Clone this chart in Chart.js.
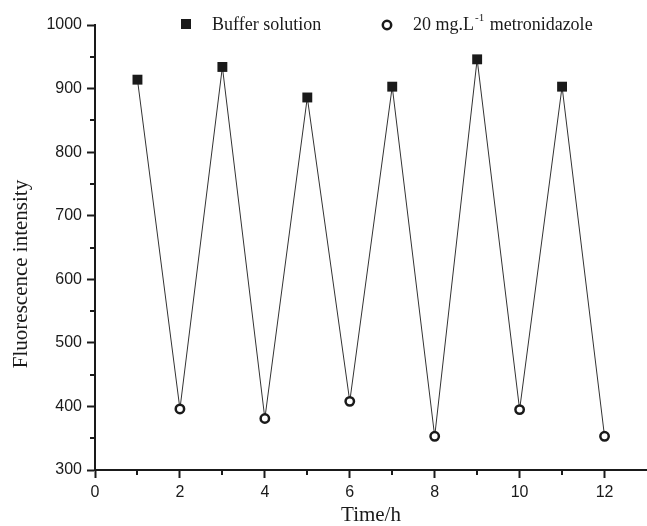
<!DOCTYPE html>
<html>
<head>
<meta charset="utf-8">
<script src="https://cdn.jsdelivr.net/npm/chart.js@4.4.1/dist/chart.umd.min.js"></script>
<style>
  body { margin: 0; background: #fff; }
  canvas { display: block; }
</style>
</head>
<body>
<canvas id="chartFluo" width="647" height="526"></canvas>
<script>
// time points (h) and intensities for the two alternating media
const bufferTime = [1, 3, 5, 7, 9, 11];
const bufferIntensity = [914, 934, 886, 903, 946, 903];
const metroTime = [2, 4, 6, 8, 10, 12];
const metroIntensity = [396, 381, 408, 353, 395, 353];

const xTicks = [0, 2, 4, 6, 8, 10, 12];
const yTicks = [300, 400, 500, 600, 700, 800, 900, 1000];
const xMinor = [1, 3, 5, 7, 9, 11];
const yMinor = [350, 450, 550, 650, 750, 850, 950];

const ink = '#1a1a1a';
const serif = "'Liberation Serif', 'Times New Roman', serif";
const sans = "'Liberation Sans', Arial, sans-serif";

const buffer = bufferTime.map((t, i) => ({ x: t, y: bufferIntensity[i] }));
const metro = metroTime.map((t, i) => ({ x: t, y: metroIntensity[i] }));
// the connecting line runs through every measurement in time order
const sequence = buffer.concat(metro).sort((a, b) => a.x - b.x);

// minor ticks, axis titles and the legend row
const extras = {
    id: 'extras',
    afterDraw(chart) {
        const ctx = chart.ctx;
        const xs = chart.scales.x;
        const ys = chart.scales.y;
        const area = chart.chartArea;
        ctx.save();
        ctx.strokeStyle = ink;
        ctx.lineWidth = 2;
        ctx.beginPath();
        xMinor.forEach(v => {
            const px = Math.round(xs.getPixelForValue(v));
            ctx.moveTo(px, area.bottom);
            ctx.lineTo(px, area.bottom + 5);
        });
        yMinor.forEach(v => {
            const py = Math.round(ys.getPixelForValue(v));
            ctx.moveTo(area.left, py);
            ctx.lineTo(area.left - 5, py);
        });
        ctx.stroke();

        ctx.fillStyle = ink;
        ctx.textBaseline = 'middle';
        ctx.textAlign = 'center';
        ctx.font = '21px ' + serif;
        ctx.fillText('Time/h', (area.left + area.right) / 2, 515);
        ctx.save();
        ctx.translate(21, 274);
        ctx.rotate(-Math.PI / 2);
        ctx.fillText('Fluorescence intensity', 0, 0);
        ctx.restore();

        // legend
        ctx.textAlign = 'left';
        ctx.fillRect(181, 19, 10, 10);
        ctx.font = '18px ' + serif;
        ctx.fillText('Buffer solution', 212, 25);

        ctx.lineWidth = 2.5;
        ctx.beginPath();
        ctx.arc(387, 25, 4.2, 0, Math.PI * 2);
        ctx.stroke();
        let tx = 413;
        ctx.fillText('20 mg.L', tx, 25);
        tx += ctx.measureText('20 mg.L').width + 1;
        ctx.font = '11px ' + serif;
        ctx.fillText('-1', tx, 18);
        tx += ctx.measureText('-1').width;
        ctx.font = '18px ' + serif;
        ctx.fillText(' metronidazole', tx + 1, 25);
        ctx.restore();
    }
};

new Chart(document.getElementById('chartFluo'), {
    type: 'scatter',
    data: {
        datasets: [
            {
                label: 'sequence',
                data: sequence,
                showLine: true,
                borderColor: '#333333',
                borderWidth: 1,
                pointRadius: 0,
                order: 3
            },
            {
                label: 'Buffer solution',
                data: buffer,
                pointStyle: 'rect',
                pointRadius: 7,
                backgroundColor: ink,
                borderColor: ink,
                borderWidth: 0,
                order: 1
            },
            {
                label: '20 mg.L-1 metronidazole',
                data: metro,
                pointStyle: 'circle',
                pointRadius: 4.2,
                backgroundColor: '#ffffff',
                borderColor: ink,
                borderWidth: 2.5,
                order: 2
            }
        ]
    },
    options: {
        responsive: false,
        animation: false,
        layout: { autoPadding: false, padding: { top: 25, right: 0, left: 0, bottom: 0 } },
        plugins: {
            legend: { display: false },
            tooltip: { enabled: false }
        },
        scales: {
            x: {
                type: 'linear',
                min: 0,
                max: 13,
                afterBuildTicks: s => { s.ticks = xTicks.map(v => ({ value: v })); },
                afterFit: s => { s.height = 56; s.paddingLeft = 0; s.paddingRight = 0; },
                border: { color: ink, width: 2 },
                grid: { drawOnChartArea: false, tickLength: 8, tickWidth: 2, color: ink },
                ticks: { color: ink, padding: 5, font: { family: sans, size: 16 } }
            },
            y: {
                min: 300,
                max: 1000,
                afterBuildTicks: s => { s.ticks = yTicks.map(v => ({ value: v })); },
                afterFit: s => { s.width = 95; },
                border: { color: ink, width: 2 },
                grid: { drawOnChartArea: false, tickLength: 8, tickWidth: 2, color: ink },
                ticks: {
                    color: ink,
                    padding: 5,
                    font: { family: sans, size: 16 },
                    callback: v => String(v)
                }
            }
        }
    },
    plugins: [extras]
});
</script>
</body>
</html>
